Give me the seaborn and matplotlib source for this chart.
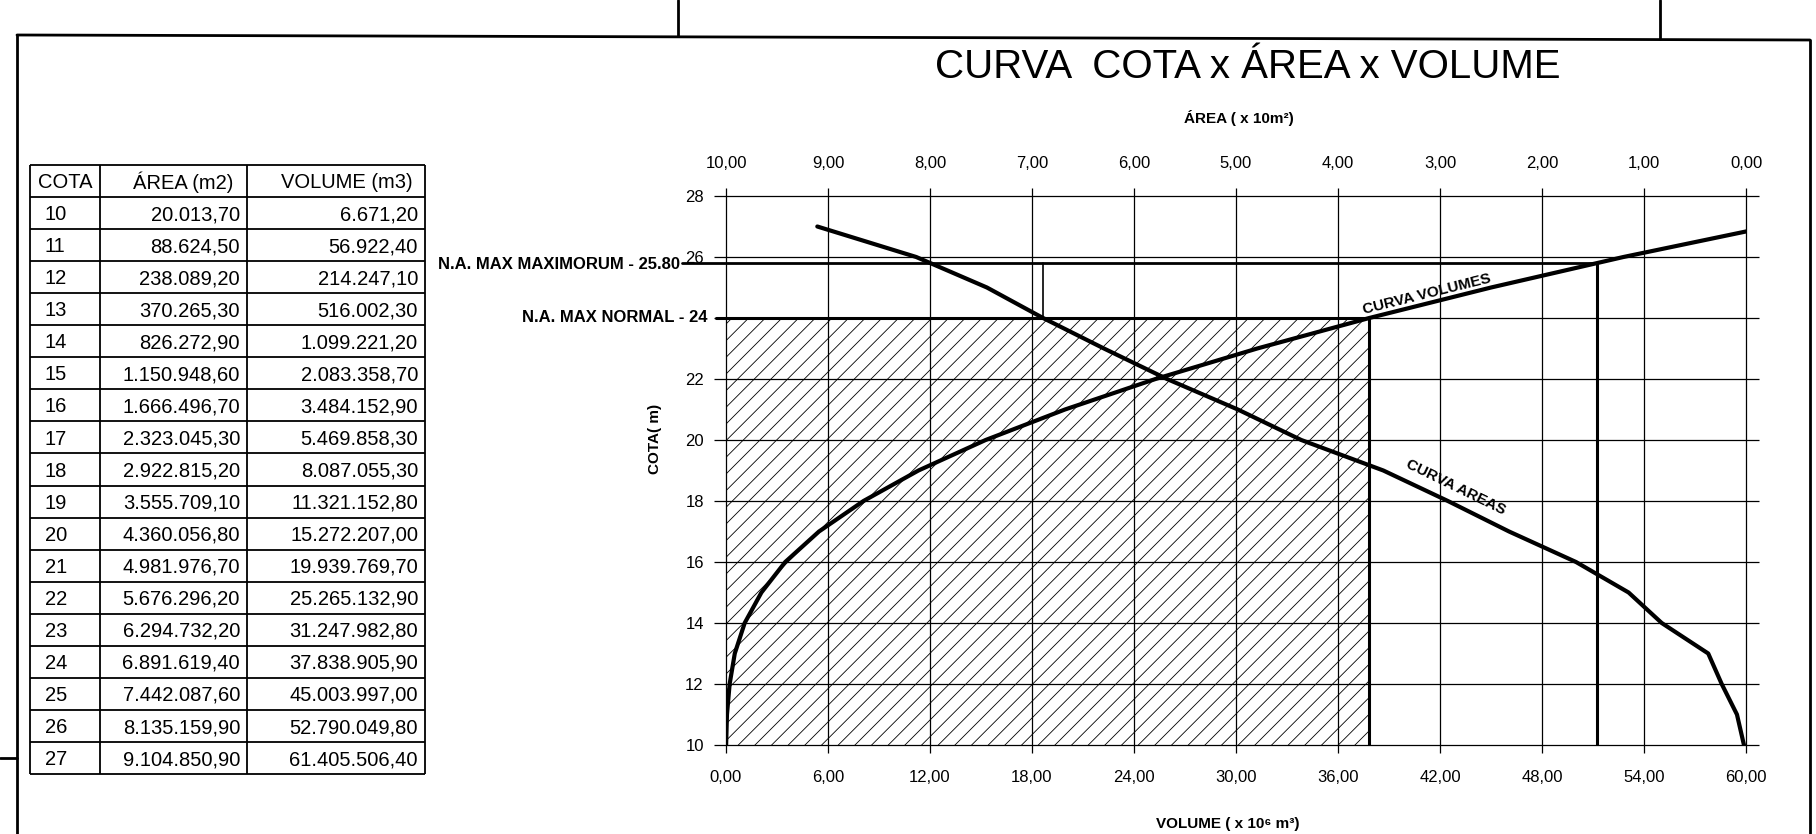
import numpy as np
import pandas as pd
import matplotlib
matplotlib.use("Agg")
import matplotlib.pyplot as plt
import seaborn as sns
from matplotlib.lines import Line2D

# cota x area x volume table (as printed on the drawing)
cota = [10, 11, 12, 13, 14, 15, 16, 17, 18, 19, 20, 21, 22, 23, 24, 25, 26, 27]
area_m2 = [20013.70, 88624.50, 238089.20, 370265.30, 826272.90, 1150948.60,
           1666496.70, 2323045.30, 2922815.20, 3555709.10, 4360056.80, 4981976.70,
           5676296.20, 6294732.20, 6891619.40, 7442087.60, 8135159.90, 9104850.90]
volume_m3 = [6671.20, 56922.40, 214247.10, 516002.30, 1099221.20, 2083358.70,
             3484152.90, 5469858.30, 8087055.30, 11321152.80, 15272207.00, 19939769.70,
             25265132.90, 31247982.80, 37838905.90, 45003997.00, 52790049.80, 61405506.40]

na_max_normal = 24
na_max_maximorum = 25.80

vol_ticks = [0, 6, 12, 18, 24, 30, 36, 42, 48, 54, 60]
area_ticks = [10, 9, 8, 7, 6, 5, 4, 3, 2, 1, 0]
cota_ticks = [10, 12, 14, 16, 18, 20, 22, 24, 26, 28]


def br(v):
    s = f"{v:,.2f}"
    return s.replace(",", "X").replace(".", ",").replace("X", ".")


df = pd.DataFrame({"cota": cota,
                   "area": np.array(area_m2) / 1e6,
                   "volume": np.array(volume_m3) / 1e6})

v24 = np.interp(na_max_normal, df["cota"], df["volume"])
v258 = np.interp(na_max_maximorum, df["cota"], df["volume"])
a24 = np.interp(na_max_normal, df["cota"], df["area"])

sns.set_theme(style="ticks")
plt.rcParams['font.family'] = ['Liberation Sans', 'DejaVu Sans']
plt.rcParams['hatch.linewidth'] = 0.6
for k in ['text.color', 'axes.labelcolor', 'xtick.color', 'ytick.color']:
    plt.rcParams[k] = 'black'
narrow = ['Liberation Sans Narrow', 'Liberation Sans', 'DejaVu Sans']

W, H = 1816, 834
fig = plt.figure(figsize=(W / 100, H / 100), dpi=100)


def box(x0, y0, x1, y1):
    return [x0 / W, 1 - y1 / H, (x1 - x0) / W, (y1 - y0) / H]


# drawing frame
for xs, ys in [([17, 1810], [35, 40]), ([17, 17], [35, 834]), ([1810, 1810], [40, 834]),
               ([678, 678], [0, 36]), ([1660, 1660], [0, 39]), ([0, 17], [758, 758])]:
    fig.add_artist(Line2D([x / W for x in xs], [1 - y / H for y in ys], color='black', lw=2))

# ---- main chart
ax = fig.add_axes(box(726, 196, 1746, 745))
ax.set_xlim(0, 60)
ax.set_ylim(10, 28)
ax.set_xticks(vol_ticks)
ax.set_xticklabels([br(v) for v in vol_ticks])
ax.set_yticks(cota_ticks)
# the 24 tick is labelled by the N.A. MAX NORMAL text
ax.set_yticklabels(["" if c == na_max_normal else str(c) for c in cota_ticks])
ax.grid(True, color='black', lw=0.9)
for gl in ax.get_xgridlines() + ax.get_ygridlines():
    gl.set_clip_on(False)
ax.tick_params(axis='y', left=True, right=True, labelright=False, length=9, width=0.9,
               color='black', pad=7, labelsize=12)
ax.tick_params(axis='x', bottom=True, length=6, width=0.9, color='black', pad=12, labelsize=12)
for s in ax.spines.values():
    s.set_visible(False)

ax.fill_between([0, v24], 10, na_max_normal, facecolor='none', edgecolor='black',
                hatch='//', linewidth=0, zorder=1)

sns.lineplot(data=df, x="volume", y="cota", ax=ax, sort=False, estimator=None,
             color='black', linewidth=3, zorder=5)

ax.plot([-0.6, v24], [na_max_normal, na_max_normal], color='black', lw=2.2, clip_on=False, zorder=4)
ax.plot([-2.6, v258], [na_max_maximorum, na_max_maximorum], color='black', lw=2, clip_on=False, zorder=4)
ax.plot([v24, v24], [10, na_max_normal], color='black', lw=2.2, zorder=4)
ax.plot([v258, v258], [10, na_max_maximorum], color='black', lw=2.2, zorder=4)

ax.text(-2.7, na_max_maximorum - 0.05, "N.A. MAX MAXIMORUM - 25.80", ha='right', va='center',
        fontsize=12, fontweight='bold', family=narrow)
ax.text(-1.1, na_max_normal, "N.A. MAX NORMAL - 24", ha='right', va='center',
        fontsize=12, fontweight='bold', family=narrow)
ax.text(41.2, 24.78, "CURVA VOLUMES", rotation=14, ha='center', va='center',
        rotation_mode='anchor', fontsize=11, fontweight='bold', family=narrow)
ax.text(42.9, 18.45, "CURVA AREAS", rotation=-26, ha='center', va='center',
        rotation_mode='anchor', fontsize=11, fontweight='bold', family=narrow)

ax.set_xlabel("VOLUME ( x 10⁶ m³)", fontsize=11, fontweight='bold', family=narrow)
ax.xaxis.set_label_coords(0.492, -0.131)
ax.set_ylabel("COTA( m)", fontsize=11, fontweight='bold', family=narrow)
ax.yaxis.set_label_coords(-0.063, 0.557)

# area on reversed top axis
ax2 = ax.twiny()
ax2.set_xlim(10, 0)
ax2.set_xticks(area_ticks)
ax2.set_xticklabels([br(v) for v in area_ticks])
ax2.tick_params(axis='x', top=True, length=6, width=0.9, color='black', pad=12, labelsize=12)
for s in ax2.spines.values():
    s.set_visible(False)
sns.lineplot(data=df, x="area", y="cota", ax=ax2, sort=False, estimator=None,
             color='black', linewidth=3, zorder=5)
ax2.plot([a24, a24], [na_max_normal, na_max_maximorum], color='black', lw=1.2)
ax2.set_xlabel("ÁREA ( x 10m²)", fontsize=11, fontweight='bold', family=narrow)
ax2.xaxis.set_label_coords(0.503, 1.133)

fig.text(1248 / W, 1 - 67 / H, "CURVA  COTA x ÁREA x VOLUME", ha='center', va='center',
         fontsize=29, family=narrow)

# ---- table
ax_t = fig.add_axes(box(30, 165, 425, 774))
ax_t.set_xlim(0, 395)
ax_t.set_ylim(19, 0)
ax_t.axis('off')
ax_t.hlines(range(20), 0, 395, color='black', lw=1.3, clip_on=False)
ax_t.vlines([0, 70, 217, 395], 0, 19, color='black', lw=1.3, clip_on=False)
tk = dict(fontsize=14.5, family=narrow, va='center', color='black')
ax_t.text(8, 0.55, "COTA", ha='left', **tk)
ax_t.text(203, 0.55, "ÁREA (m2)", ha='right', **tk)
ax_t.text(383, 0.55, "VOLUME (m3)", ha='right', **tk)
for i, (c, a, v) in enumerate(zip(cota, area_m2, volume_m3)):
    y = i + 1.55
    ax_t.text(15, y, str(c), ha='left', **tk)
    ax_t.text(210, y, br(a), ha='right', **tk)
    ax_t.text(388, y, br(v), ha='right', **tk)

fig.savefig("out.png", dpi=100, facecolor='white')
